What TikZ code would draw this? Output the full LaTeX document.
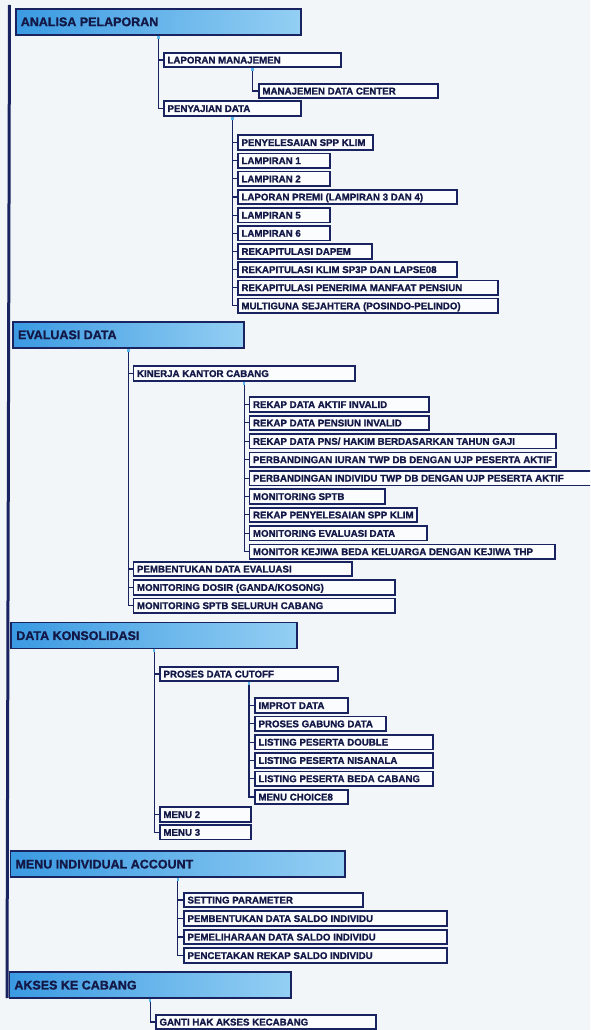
\documentclass[tikz,border=0pt]{standalone}
\usepackage{fontspec}
\setmainfont{Liberation Sans}[BoldFeatures={FakeBold=1.4}]
\usetikzlibrary{arrows.meta}
\definecolor{navy}{HTML}{18235F}
\definecolor{txt}{HTML}{131846}
\definecolor{bg}{HTML}{F3F6F8}
\definecolor{lone}{HTML}{3A9AE2}
\definecolor{ltwo}{HTML}{94CFF3}
\definecolor{cfill}{HTML}{FBFCFE}
\definecolor{tipc}{HTML}{5BB8EE}
\tikzset{
  cb/.style={draw=navy, line width=1.7pt, fill=cfill, anchor=west,
    minimum height=14.5pt, inner xsep=3.5pt, inner ysep=0pt, outer sep=0pt,
    text=txt, font=\fontsize{9.7}{10}\selectfont\bfseries,
    text height=6.9pt, text depth=0pt},
  lb/.style={draw=navy, line width=1.7pt, left color=lone, right color=ltwo, anchor=west,
    minimum height=26pt, inner xsep=5pt, inner ysep=0pt, outer sep=0pt,
    text=txt, font=\fontsize{12.5}{13}\selectfont\bfseries,
    text height=8.9pt, text depth=0pt},
  conn/.style={draw=navy, line width=1.1pt, shorten <=0.85pt,
    arrows={Rectangle[length=3pt,width=2.4pt,color=tipc]-}},
  mainline/.style={draw=navy, line width=3pt}
}
% name, left, right, center y, text
\newcommand\cnode[5]{%
  \pgfmathsetmacro\cnw{#3-#2}%
  \pgfmathsetmacro\cnt{#3-#2-7}%
  \node[cb, minimum width=\cnw] (#1) at (#2,#4) {\makebox[\cnt pt][l]{#5}};}
\newcommand\lnode[5]{%
  \pgfmathsetmacro\cnw{#3-#2}%
  \pgfmathsetmacro\cnt{#3-#2-10}%
  \node[lb, minimum width=\cnw] (#1) at (#2,#4) {\makebox[\cnt pt][l]{#5}};}
\begin{document}
\begin{tikzpicture}[x=1pt,y=-1pt]
\useasboundingbox (0,0) rectangle (590,1030);
\clip (0,0) rectangle (590,1030);
\fill[bg] (0,0) rectangle (590,1030);
% main left line
\coordinate (top) at (9.5,5);
\coordinate (bot) at (7,998);
\draw[mainline] (top) -- (bot);

% ---------- ANALISA PELAPORAN
\lnode{a1}{15.8}{301}{21.7}{ANALISA PELAPORAN}
\cnode{lm}{164}{341}{60}{LAPORAN MANAJEMEN}
\cnode{mdc}{259}{438}{91}{MANAJEMEN DATA CENTER}
\cnode{pd}{164}{301}{108.5}{PENYAJIAN DATA}
\cnode{p1}{238}{373}{142.5}{PENYELESAIAN SPP KLIM}
\cnode{p2}{238}{330}{160.65}{LAMPIRAN 1}
\cnode{p3}{238}{330}{178.8}{LAMPIRAN 2}
\cnode{p4}{238}{457}{196.95}{LAPORAN PREMI (LAMPIRAN 3 DAN 4)}
\cnode{p5}{238}{330}{215.1}{LAMPIRAN 5}
\cnode{p6}{238}{330}{233.25}{LAMPIRAN 6}
\cnode{p7}{238}{372}{251.4}{REKAPITULASI DAPEM}
\cnode{p8}{238}{457}{269.55}{REKAPITULASI KLIM SP3P DAN LAPSE08}
\cnode{p9}{238}{498}{287.7}{REKAPITULASI PENERIMA MANFAAT PENSIUN}
\cnode{p10}{238}{498}{305.85}{MULTIGUNA SEJAHTERA (POSINDO-PELINDO)}
\foreach \c in {lm,pd} \draw[conn] (a1.south) |- (\c.west);
\draw[conn] (lm.south) |- (mdc.west);
\foreach \c in {p1,p2,p3,p4,p5,p6,p7,p8,p9,p10} \draw[conn] (pd.south) |- (\c.west);

% ---------- EVALUASI DATA
\lnode{e1}{13}{244}{334.7}{EVALUASI DATA}
\cnode{kc}{133.5}{355}{373.5}{KINERJA KANTOR CABANG}
\cnode{k1}{249.5}{429}{404.5}{REKAP DATA AKTIF INVALID}
\cnode{k2}{249.5}{429}{422.9}{REKAP DATA PENSIUN INVALID}
\cnode{k3}{249.5}{556}{441.3}{REKAP DATA PNS/ HAKIM BERDASARKAN TAHUN GAJI}
\cnode{k4}{249.5}{556}{459.7}{PERBANDINGAN IURAN TWP DB DENGAN UJP PESERTA AKTIF}
\cnode{k5}{249.5}{596}{478.1}{PERBANDINGAN INDIVIDU TWP DB DENGAN UJP PESERTA AKTIF}
\cnode{k6}{249.5}{385}{496.5}{MONITORING SPTB}
\cnode{k7}{249.5}{417}{514.9}{REKAP PENYELESAIAN SPP KLIM}
\cnode{k8}{249.5}{427}{533.3}{MONITORING EVALUASI DATA}
\cnode{k9}{249.5}{555}{551.7}{MONITOR KEJIWA BEDA KELUARGA DENGAN KEJIWA THP}
\cnode{pe}{133.5}{352}{569}{PEMBENTUKAN DATA EVALUASI}
\cnode{ds}{133.5}{395}{587.4}{MONITORING DOSIR (GANDA/KOSONG)}
\cnode{ss}{133.5}{395}{605.6}{MONITORING SPTB SELURUH CABANG}
\foreach \c in {kc,pe,ds,ss} \draw[conn] (e1.south) |- (\c.west);
\foreach \c in {k1,k2,k3,k4,k5,k6,k7,k8,k9} \draw[conn] (kc.south) |- (\c.west);

% ---------- DATA KONSOLIDASI
\lnode{d1}{11.3}{297}{635.5}{DATA KONSOLIDASI}
\cnode{pc}{160}{338}{674}{PROSES DATA CUTOFF}
\cnode{c1}{255}{348}{705.5}{IMPROT DATA}
\cnode{c2}{255}{386}{723.8}{PROSES GABUNG DATA}
\cnode{c3}{255}{433}{742.1}{LISTING PESERTA DOUBLE}
\cnode{c4}{255}{433}{760.4}{LISTING PESERTA NISANALA}
\cnode{c5}{255}{433}{778.7}{LISTING PESERTA BEDA CABANG}
\cnode{c6}{255}{348}{797}{MENU CHOICE8}
\cnode{m2}{160}{251}{814.5}{MENU 2}
\cnode{m3}{160}{251}{832.3}{MENU 3}
\foreach \c in {pc,m2,m3} \draw[conn] (d1.south) |- (\c.west);
\foreach \c in {c1,c2,c3,c4,c5,c6} \draw[conn] (pc.south) |- (\c.west);

% ---------- MENU INDIVIDUAL ACCOUNT
\lnode{mi}{10.5}{345}{864}{MENU INDIVIDUAL ACCOUNT}
\cnode{s1}{184}{363}{900}{SETTING PARAMETER}
\cnode{s2}{184}{447}{918.5}{PEMBENTUKAN DATA SALDO INDIVIDU}
\cnode{s3}{184}{447}{937}{PEMELIHARAAN DATA SALDO INDIVIDU}
\cnode{s4}{184}{447}{955.5}{PENCETAKAN REKAP SALDO INDIVIDU}
\foreach \c in {s1,s2,s3,s4} \draw[conn] (mi.south) |- (\c.west);

% ---------- AKSES KE CABANG
\lnode{ak}{9.4}{291}{985}{AKSES KE CABANG}
\cnode{g1}{156}{376}{1022}{GANTI HAK AKSES KECABANG}
\draw[conn] (ak.south) |- (g1.west);
\end{tikzpicture}
\end{document}
